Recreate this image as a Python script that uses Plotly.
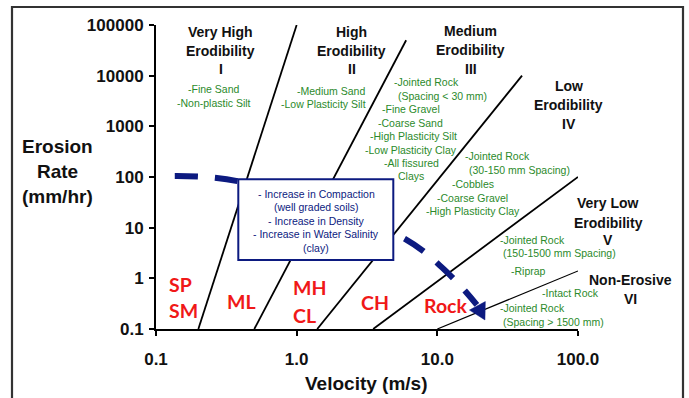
import numpy as np
import plotly.graph_objects as go

# ---- data -------------------------------------------------------------
# Category boundary lines (velocity m/s, erosion rate mm/hr), start -> end
boundary_v_start = [0.2, 0.5, 1.4, 3.5, 10.0]
boundary_e_start = [0.1, 0.1, 0.1, 0.1, 0.1]
boundary_v_end = [1.0, 6.0, 40.0, 100.0, 100.0]
boundary_e_end = [100000, 50000, 10000, 100, 1.4]

# Trend arrow path (velocity, erosion rate) and arrow tip
trend_v = [0.136, 0.38, 5.6, 12.3, 19.1]
trend_e = [105, 83, 6.5, 1.16, 0.30]
tip_v, tip_e = 21.8, 0.151

x_tickvals = [0.1, 1, 10, 100]
x_ticktext = ["0.1", "1.0", "10.0", "100.0"]
y_tickvals = [0.1, 1, 10, 100, 1000, 10000, 100000]
y_ticktext = ["0.1", "1", "10", "100", "1000", "10000", "100000"]

# ---- layout helpers ---------------------------------------------------
W, H = 689, 398
L, R, T, B = 156, 578, 25, 329
X_RANGE = (-1, 2)
Y_RANGE = (-1, 5)


def px(x):
    return (x - L) / (R - L)


def py(y):
    return (B - y) / (B - T)


# data <-> screen pixels for the log axes
def to_screen(v, e):
    sx = L + (np.log10(v) - X_RANGE[0]) * (R - L) / (X_RANGE[1] - X_RANGE[0])
    sy = B - (np.log10(e) - Y_RANGE[0]) * (B - T) / (Y_RANGE[1] - Y_RANGE[0])
    return np.array([sx, sy])


def to_data(p):
    lv = X_RANGE[0] + (p[0] - L) * (X_RANGE[1] - X_RANGE[0]) / (R - L)
    le = Y_RANGE[0] + (B - p[1]) * (Y_RANGE[1] - Y_RANGE[0]) / (B - T)
    return 10 ** lv, 10 ** le


NAVY = "#0c1a80"
GREEN = "#2b8a2b"
RED = "#f01818"
BLACK = "#111111"
SANS = "Liberation Sans, Arial, sans-serif"

fig = go.Figure()

for i in range(len(boundary_v_start)):
    fig.add_trace(go.Scatter(
        x=[boundary_v_start[i], boundary_v_end[i]],
        y=[boundary_e_start[i], boundary_e_end[i]],
        mode="lines",
        line=dict(color="black", width=1.2 if i == 4 else 1.8),
        hoverinfo="skip", showlegend=False,
    ))

fig.add_trace(go.Scatter(
    x=trend_v, y=trend_e, mode="lines",
    line=dict(color=NAVY, width=6, dash="23px,17px", shape="spline", smoothing=1.0),
    hoverinfo="skip", showlegend=False,
))

# Filled arrow head pointing from the end of the path to the tip
tip = to_screen(tip_v, tip_e)
tail = to_screen(trend_v[-1], trend_e[-1])
u = (tip - tail) / np.linalg.norm(tip - tail)
n = np.array([-u[1], u[0]])
base = tip - 16 * u
head_pts = [tip, base + 9 * n, base - 9 * n, tip]
head_v, head_e = zip(*[to_data(p) for p in head_pts])
fig.add_trace(go.Scatter(
    x=list(head_v), y=list(head_e), mode="lines", fill="toself",
    fillcolor=NAVY, line=dict(color=NAVY, width=0.5),
    hoverinfo="skip", showlegend=False,
))

annotations = []


def label(text, x, y, size, color, bold=False, xanchor="center", family=SANS):
    annotations.append(dict(
        text=text, x=px(x), y=py(y), xref="paper", yref="paper",
        xanchor=xanchor, yanchor="middle", showarrow=False,
        font=dict(size=size, color=color, family=family,
                  weight="bold" if bold else "normal"),
    ))


# Category headings
headings = [
    (["Very High", "Erodibility", "I"], 220.5, [32, 50.7, 69.3]),
    (["High", "Erodibility", "II"], 351.7, [32.3, 50.7, 69.3]),
    (["Medium", "Erodibility", "III"], 470.7, [30.7, 50, 69.3]),
    (["Low", "Erodibility", "IV"], 568.8, [85.7, 104.7, 124]),
    (["Very Low", "Erodibility", "V"], 608, [203.3, 222.5, 239.8]),
    (["Non-Erosive", "VI"], 630, [280, 299.3]),
]
for lines, cx, ys in headings:
    for t, yy in zip(lines, ys):
        label(t, cx, yy, 14, BLACK, bold=True)

# Material lists
materials = [
    ("-Fine Sand", 214, 89.3), ("-Non-plastic Silt", 214, 102.7),
    ("-Medium Sand", 331.2, 91), ("-Low Plasticity Silt", 323, 104),
    ("-Jointed Rock", 426.7, 82), ("(Spacing < 30 mm)", 442.5, 95.7),
    ("-Fine Gravel", 411.2, 109), ("-Coarse Sand", 410.8, 122.7),
    ("-High Plasticity Silt", 413, 136), ("-Low Plasticity Clay", 410.5, 149.7),
    ("-All fissured", 411.7, 163), ("Clays", 410.8, 176.3),
    ("-Jointed Rock", 497.5, 156.3), ("(30-150 mm Spacing)", 519, 169.5),
    ("-Cobbles", 473, 184.3), ("-Coarse Gravel", 472.5, 197.7),
    ("-High Plasticity Clay", 473, 211),
    ("-Jointed Rock", 532, 240), ("(150-1500 mm Spacing)", 559.5, 253),
    ("-Riprap", 528.7, 270.7),
    ("-Intact Rock", 570, 293.3), ("-Jointed Rock", 532, 307.7),
    ("(Spacing > 1500 mm)", 553.8, 321.7),
]
for t, x, y in materials:
    label(t, x, y, 10.5, GREEN)

# Soil classes
soils = [("SP", 166.7, 284), ("SM", 166.7, 310), ("ML", 225, 301.7),
         ("MH", 290.7, 287.3), ("CL", 290.7, 315.7), ("CH", 359.3, 302.7),
         ("Rock", 421.5, 305)]
for t, x, y in soils:
    label(t, x, y, 19.5, RED, bold=True, xanchor="left",
          family="Lato, Open Sans, sans-serif")

# Trend notes inside the box
notes = ["- Increase in Compaction", "(well graded soils)", "- Increase in Density",
         "- Increase in Water Salinity", "(clay)"]
for t, yy in zip(notes, [194, 206.9, 220.6, 233.5, 247.6]):
    label(t, 316, yy, 10.5, NAVY)

# Axis titles
for t, yy in zip(["Erosion", "Rate", "(mm/hr)"], [146.5, 171, 196]):
    label(t, 57, yy, 19, BLACK, bold=True)
label("Velocity (m/s)", 366, 383.5, 19, BLACK, bold=True)

shapes = [
    dict(type="rect", xref="paper", yref="paper",
         x0=px(238.3), x1=px(393.3), y0=py(260), y1=py(179.3),
         line=dict(color=NAVY, width=2), fillcolor="white", layer="above"),
    dict(type="rect", xref="paper", yref="paper",
         x0=px(12), x1=px(683), y0=py(430), y1=py(7),
         line=dict(color="#333333", width=2.2), fillcolor="rgba(0,0,0,0)",
         layer="above"),
]

axis_common = dict(
    type="log", showgrid=False, zeroline=False, showline=True,
    linecolor="black", linewidth=2, ticks="outside", ticklen=5, tickwidth=2,
    tickcolor="black", mirror=False,
    tickfont=dict(family=SANS, size=17, color=BLACK, weight="bold"),
)

fig.update_layout(
    width=W, height=H,
    margin=dict(l=L, r=W - R, t=T, b=H - B, pad=0),
    paper_bgcolor="white", plot_bgcolor="white",
    xaxis=dict(range=list(X_RANGE), tickvals=x_tickvals, ticktext=x_ticktext,
               ticklabelstandoff=9, **axis_common),
    yaxis=dict(range=list(Y_RANGE), tickvals=y_tickvals, ticktext=y_ticktext,
               ticklabelstandoff=2, **axis_common),
    annotations=annotations, shapes=shapes, showlegend=False,
)

fig.write_html("out.html")
